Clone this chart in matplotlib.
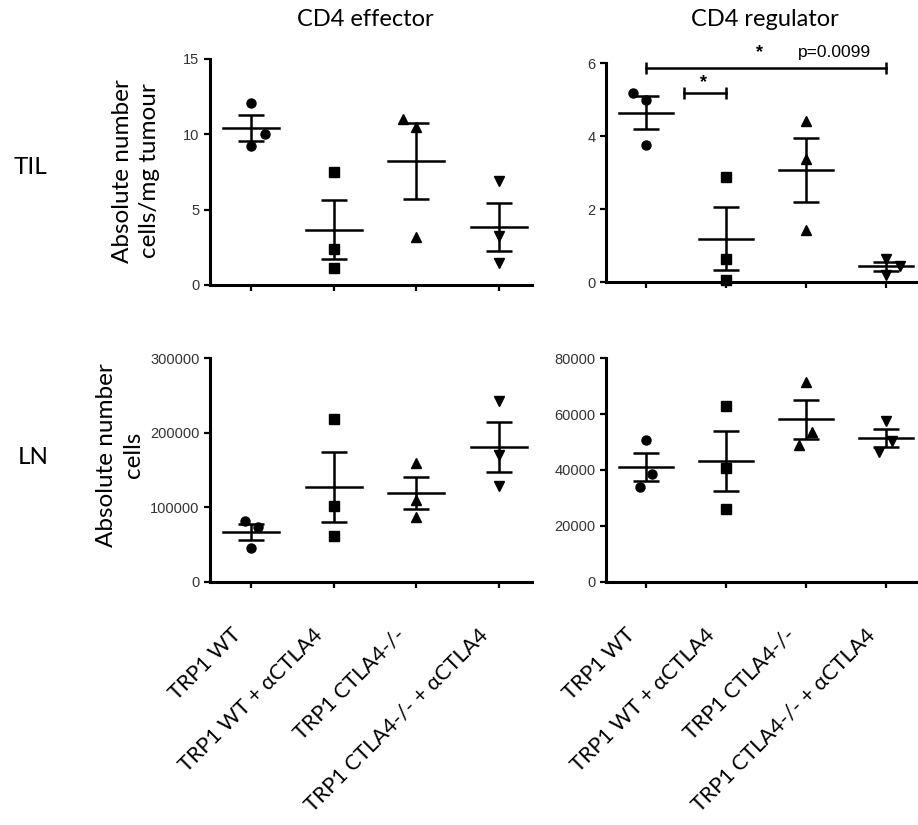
import numpy as np
import matplotlib
matplotlib.use("Agg")
import matplotlib.pyplot as plt
import matplotlib.transforms as mtransforms

groups = ["TRP1 WT", "TRP1 WT + \u03b1CTLA4", "TRP1 CTLA4-/-", "TRP1 CTLA4-/- + \u03b1CTLA4"]
markers = ["o", "s", "^", "v"]

# values (3 mice per group)
til_eff = [[12.1, 10.0, 9.2], [7.5, 2.4, 1.1], [11.0, 10.5, 3.2], [6.9, 3.25, 1.45]]
til_reg = [[5.18, 5.0, 3.75], [2.88, 0.65, 0.06], [4.42, 3.38, 1.42], [0.65, 0.45, 0.2]]
ln_eff = [[81000, 74000, 45000], [218000, 102000, 61000], [160000, 110000, 87000], [243000, 170000, 128000]]
ln_reg = [[50750, 38570, 34000], [63000, 40800, 25900], [71600, 53700, 49000], [57700, 50500, 46570]]

# horizontal nudges for overlapping points (layout only)
til_eff_dx = [[0, 0.17, 0], [0, 0, 0], [-0.16, 0, 0], [0, 0, 0]]
til_reg_dx = [[-0.16, 0, 0], [0, 0, 0], [0, 0, 0], [0, 0.17, 0]]
ln_eff_dx = [[-0.08, 0.08, 0], [0, 0, 0], [0, 0, 0], [0, 0, 0]]
ln_reg_dx = [[0, 0.08, -0.08], [0, 0, 0], [0, 0.08, -0.09], [0, 0.07, -0.09]]

W, H = 918, 825
fig = plt.figure(figsize=(W / 100, H / 100), dpi=100)

def box(l, r, top, bot):
    return [l / W, 1 - bot / H, (r - l) / W, (bot - top) / H]

ax_te = fig.add_axes(box(210, 532, 59, 285))
ax_tr = fig.add_axes(box(606, 918, 63.3, 282.3))
ax_le = fig.add_axes(box(210, 532, 358.3, 581.7))
ax_lr = fig.add_axes(box(606, 918, 358.3, 581.7))

def scatter_panel(ax, data, dx, ylim, yticks):
    for i, vals in enumerate(data):
        vals = np.array(vals, dtype=float)
        xs = i + np.array(dx[i])
        ax.plot(xs, vals, linestyle="none", marker=markers[i], color="black",
                markersize=6.5, clip_on=False, zorder=3)
        m = vals.mean()
        sem = vals.std(ddof=1) / np.sqrt(len(vals))
        ax.plot([i - 0.34, i + 0.34], [m, m], color="black", lw=1.8, zorder=2)
        ax.errorbar(i, m, yerr=sem, color="black", lw=1.8, capsize=9.5,
                    capthick=1.8, zorder=2)
    ax.set_xlim(-0.5, 3.4)
    ax.set_ylim(*ylim)
    ax.set_yticks(yticks)
    ax.set_xticks(range(4))
    for s in ["top", "right"]:
        ax.spines[s].set_visible(False)
    for s in ["left", "bottom"]:
        ax.spines[s].set_linewidth(2.2)
    ax.tick_params(width=1.6, length=4, labelsize=10.5, labelcolor="#333333")
    for lab in ax.get_yticklabels():
        lab.set_family("Liberation Sans")

scatter_panel(ax_te, til_eff, til_eff_dx, (0, 15), [0, 5, 10, 15])
scatter_panel(ax_tr, til_reg, til_reg_dx, (0, 6), [0, 2, 4, 6])
scatter_panel(ax_le, ln_eff, ln_eff_dx, (0, 300000), [0, 100000, 200000, 300000])
scatter_panel(ax_lr, ln_reg, ln_reg_dx, (0, 80000), [0, 20000, 40000, 60000, 80000])

for ax in (ax_te, ax_tr):
    ax.set_xticklabels([])

for ax in (ax_le, ax_lr):
    ax.set_xticklabels(groups, rotation=45, ha="right", rotation_mode="anchor",
                       fontsize=15.5, family="Lato", color="black")
    ax.tick_params(axis="x", pad=27)
    shift = mtransforms.ScaledTranslation(-21 / 100, 0, fig.dpi_scale_trans)
    for lab in ax.get_xticklabels():
        lab.set_transform(lab.get_transform() + shift)
    for lab in ax.get_yticklabels():
        lab.set_family("Liberation Sans")

# significance marks on CD4 regulator TIL
ax_tr.plot([0, 3], [5.88, 5.88], color="black", lw=1.8, clip_on=False)
ax_tr.plot([0, 3], [5.88, 5.88], linestyle="none", marker="|", markersize=9,
           markeredgewidth=1.8, color="black", clip_on=False)
ax_tr.text(1.42, 6.29, "*", ha="center", va="center", fontsize=13, fontweight="bold",
           family="Liberation Sans")
ax_tr.text(2.36, 6.29, "p=0.0099", ha="center", va="center", fontsize=12.5,
           family="Liberation Sans")
ax_tr.plot([0.48, 1.0], [5.19, 5.19], color="black", lw=1.8, clip_on=False)
ax_tr.plot([0.48, 1.0], [5.19, 5.19], linestyle="none", marker="|", markersize=9,
           markeredgewidth=1.8, color="black", clip_on=False)
ax_tr.text(0.72, 5.47, "*", ha="center", va="center", fontsize=13, fontweight="bold",
           family="Liberation Sans")

# titles and row / axis labels
fig.text(365 / W, 1 - 20 / H, "CD4 effector", ha="center", va="center", fontsize=17, family="Lato")
fig.text(765 / W, 1 - 20 / H, "CD4 regulator", ha="center", va="center", fontsize=17, family="Lato")
fig.text(30 / W, 1 - 168 / H, "TIL", ha="center", va="center", fontsize=17.5, family="Lato")
fig.text(33 / W, 1 - 457 / H, "LN", ha="center", va="center", fontsize=17.5, family="Lato")
fig.text(136 / W, 1 - 171 / H, "Absolute number\ncells/mg tumour", ha="center", va="center",
         rotation=90, fontsize=17.5, family="Lato", linespacing=1.3)
fig.text(120 / W, 1 - 455 / H, "Absolute number\ncells", ha="center", va="center",
         rotation=90, fontsize=17.5, family="Lato", linespacing=1.3)

fig.savefig("out.png", dpi=100)
